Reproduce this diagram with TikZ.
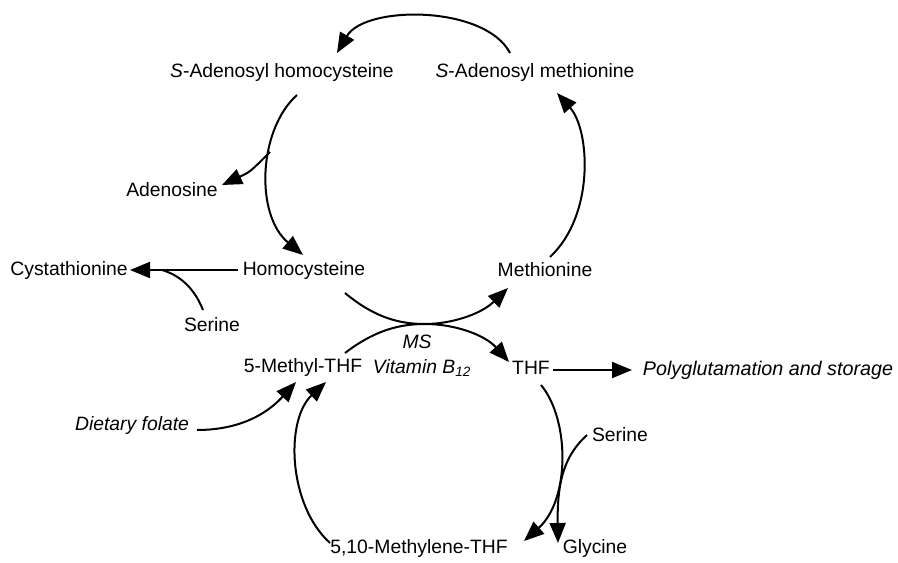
\documentclass[tikz,border=0pt]{standalone}
\usepackage{fontspec}
\setmainfont{Liberation Sans}
\usetikzlibrary{arrows.meta}
\tikzset{
  lbl/.style={inner sep=1pt, font=\fontsize{14.5}{17}\selectfont},
  conn/.style={line width=1.5pt, -{Triangle[length=15pt,width=12pt]}},
  plain/.style={line width=1.5pt}
}
\begin{document}
\begin{tikzpicture}[x=0.75pt,y=-0.75pt]
\useasboundingbox (0,0) rectangle (898,563);
% labels
\node[lbl] (sah) at (282,73) {\textit{S}-Adenosyl homocysteine};
\node[lbl] (sam) at (535,73) {\textit{S}-Adenosyl methionine};
\node[lbl] (ado) at (172,190) {Adenosine};
\node[lbl] (cys) at (69,270) {Cystathionine};
\node[lbl] (hcy) at (304,270) {Homocysteine};
\node[lbl] (met) at (545,270) {Methionine};
\node[lbl] (ser1) at (212,325) {Serine};
\node[lbl] (mthf) at (303,367) {5-Methyl-THF};
\node[lbl] (ms) at (417,342) {\textit{MS}};
\node[lbl] (b12) at (422,368) {\textit{Vitamin B\textsubscript{12}}};
\node[lbl] (thf) at (531,368) {THF};
\node[lbl, font=\fontsize{14.8}{17}\selectfont] (poly) at (768,370) {\textit{Polyglutamation and storage}};
\node[lbl] (diet) at (132,425) {\textit{Dietary folate}};
\node[lbl] (ser2) at (620,435) {Serine};
\node[lbl] (mlthf) at (419,548) {5,10-Methylene-THF};
\node[lbl] (gly) at (595,548) {Glycine};
% anchor points
\coordinate (a1) at (510,53);
\coordinate (a2) at (337,53);
\coordinate (b1) at (297,95);
\coordinate (b2) at (303,255);
\coordinate (c1) at (270,152);
\coordinate (c2) at (222,185);
\coordinate (d1) at (550,257);
\coordinate (d2) at (557,93);
\coordinate (e1) at (345,293);
\coordinate (e2) at (508,288);
\coordinate (f1) at (345,353);
\coordinate (f2) at (509,362);
\coordinate (g1) at (553,370);
\coordinate (g2) at (632,370);
\coordinate (h1) at (238,270);
\coordinate (h2) at (130,270);
\coordinate (i1) at (203,310);
\coordinate (i2) at (162,270);
\coordinate (j1) at (197,430);
\coordinate (j2) at (296,382);
\coordinate (k1) at (330,543);
\coordinate (k2) at (326,382);
\coordinate (l1) at (541,385);
\coordinate (l2) at (524,541);
\coordinate (m1) at (587,435);
\coordinate (m2) at (558,543);
% connectors
\draw[conn] (a1) .. controls (485,5) and (365,5) .. (a2);
\draw[conn] (b1) .. controls (258,130) and (255,215) .. (b2);
\draw[conn] (c1) .. controls (250,172) .. (c2);
\draw[conn] (d1) .. controls (595,215) and (590,130) .. (d2);
\draw[conn] (e1) .. controls (375,318) and (400,324) .. (425,324) .. controls (450,324) and (480,315) .. (e2);
\draw[conn] (f1) .. controls (375,330) and (400,324) .. (425,324) .. controls (455,324) and (485,335) .. (f2);
\draw[conn] (g1) -- (g2);
\draw[conn] (h1) -- (h2);
\draw[plain] (i1) .. controls (195,290) and (182,276) .. (i2);
\draw[conn] (j1) .. controls (250,430) and (275,405) .. (j2);
\draw[conn] (k1) .. controls (288,505) and (285,420) .. (k2);
\draw[conn] (l1) .. controls (570,420) and (570,500) .. (l2);
\draw[conn] (m1) .. controls (565,455) and (557,480) .. (m2);
\end{tikzpicture}
\end{document}
